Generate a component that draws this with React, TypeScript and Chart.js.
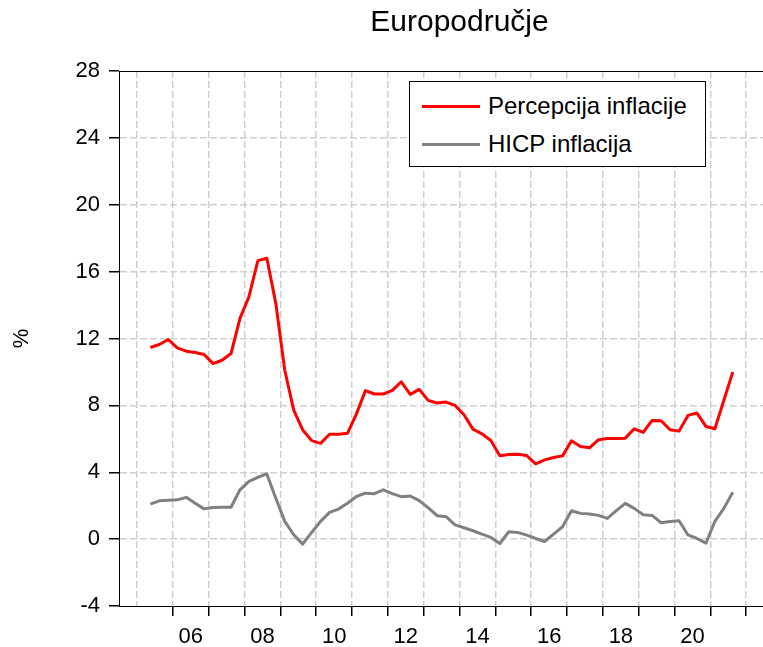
import React, { useEffect, useRef } from 'react';
import { Chart, registerables } from 'chart.js';

Chart.register(...registerables);

const periods = [
  '2005Q2', '2005Q3', '2005Q4',
  '2006Q1', '2006Q2', '2006Q3', '2006Q4',
  '2007Q1', '2007Q2', '2007Q3', '2007Q4',
  '2008Q1', '2008Q2', '2008Q3', '2008Q4',
  '2009Q1', '2009Q2', '2009Q3', '2009Q4',
  '2010Q1', '2010Q2', '2010Q3', '2010Q4',
  '2011Q1', '2011Q2', '2011Q3', '2011Q4',
  '2012Q1', '2012Q2', '2012Q3', '2012Q4',
  '2013Q1', '2013Q2', '2013Q3', '2013Q4',
  '2014Q1', '2014Q2', '2014Q3', '2014Q4',
  '2015Q1', '2015Q2', '2015Q3', '2015Q4',
  '2016Q1', '2016Q2', '2016Q3', '2016Q4',
  '2017Q1', '2017Q2', '2017Q3', '2017Q4',
  '2018Q1', '2018Q2', '2018Q3', '2018Q4',
  '2019Q1', '2019Q2', '2019Q3', '2019Q4',
  '2020Q1', '2020Q2', '2020Q3', '2020Q4',
  '2021Q1', '2021Q2', '2021Q3',
];

const perceivedInflation = [
  11.46, 11.64, 11.94,
  11.44, 11.24, 11.16, 11.04,
  10.5, 10.7, 11.1, 13.2,
  14.5, 16.66, 16.8, 14.1,
  10.1, 7.72, 6.53, 5.89,
  5.73, 6.27, 6.27, 6.33,
  7.49, 8.88, 8.68, 8.68,
  8.9, 9.41, 8.66, 8.96,
  8.3, 8.14, 8.2, 8.0,
  7.44, 6.58, 6.3, 5.9,
  4.98, 5.06, 5.08, 5.0,
  4.5, 4.74, 4.88, 4.98,
  5.88, 5.54, 5.46, 5.94,
  6.02, 6.02, 6.04, 6.6,
  6.38, 7.1, 7.08, 6.54,
  6.46, 7.4, 7.54, 6.74,
  6.6, 8.3, 10.0,
];

const hicpInflation = [
  2.09, 2.29, 2.33,
  2.35, 2.5, 2.15, 1.81,
  1.89, 1.91, 1.91, 2.95,
  3.45, 3.7, 3.9, 2.45,
  1.06, 0.26, -0.3, 0.4,
  1.06, 1.6, 1.8, 2.15,
  2.55, 2.75, 2.72, 2.95,
  2.72, 2.54, 2.58, 2.3,
  1.88, 1.4, 1.34, 0.85,
  0.68, 0.5, 0.3, 0.1,
  -0.26, 0.44, 0.4, 0.24,
  0.04, -0.14, 0.3, 0.74,
  1.7, 1.54, 1.5, 1.42,
  1.24, 1.7, 2.14, 1.84,
  1.46, 1.42, 0.98, 1.05,
  1.1, 0.25, 0.04, -0.24,
  1.06, 1.84, 2.8,
];

const yearTicks = [2005, 2006, 2007, 2008, 2009, 2010, 2011, 2012, 2013, 2014, 2015, 2016, 2017, 2018, 2019, 2020, 2021, 2022, 2023];
const yearLabels: Record<number, string> = {
  2006: '06', 2008: '08', 2010: '10', 2012: '12', 2014: '14', 2016: '16', 2018: '18', 2020: '20',
};
const yTicks = [-4, 0, 4, 8, 12, 16, 20, 24, 28];

const titleText = 'Europodručje';
const yAxisTitle = '%';

const series = [
  { label: 'Percepcija inflacije', values: perceivedInflation, color: '#ff0000' },
  { label: 'HICP inflacija', values: hicpInflation, color: '#808080' },
];

const FONT = '"Liberation Sans", Arial, sans-serif';
const GRID = '#cfcfcf';
const NONE = 'rgba(0,0,0,0)';

function periodToX(p: string): number {
  const year = Number(p.slice(0, 4));
  const q = Number(p.slice(5));
  return year + (q - 0.5) / 4;
}

const framePlugin = {
  id: 'frame',
  afterDraw(chart: any) {
    const { ctx, chartArea } = chart;
    const l = Math.round(chartArea.left) + 0.5;
    const t = Math.round(chartArea.top) + 0.5;
    const r = Math.round(chartArea.right) + 0.5;
    const b = Math.round(chartArea.bottom) + 0.5;
    ctx.save();
    ctx.setLineDash([]);
    ctx.strokeStyle = '#000';
    ctx.lineWidth = 1;
    ctx.strokeRect(l, t, r - l, b - t);
    ctx.restore();
  },
};

export default function App() {
  const canvasRef = useRef<HTMLCanvasElement | null>(null);

  useEffect(() => {
    if (!canvasRef.current) return;
    const chart = new Chart(canvasRef.current, {
      type: 'line',
      data: {
        datasets: series.map((s) => ({
          label: s.label,
          data: periods.map((p, i) => ({ x: periodToX(p), y: s.values[i] })),
          borderColor: s.color,
          backgroundColor: s.color,
          borderWidth: 3,
          pointRadius: 0,
          tension: 0,
          borderJoinStyle: 'round' as const,
          fill: false,
        })),
      },
      plugins: [framePlugin],
      options: {
        animation: false,
        responsive: false,
        devicePixelRatio: 1,
        layout: { padding: { left: 0, right: 8, top: 0, bottom: 0 } },
        plugins: {
          legend: { display: false },
          tooltip: { enabled: false },
          title: {
            display: true,
            text: titleText,
            fullSize: false,
            color: '#000',
            font: { family: FONT, size: 30, weight: 'normal', lineHeight: 1 },
            padding: { top: 0, bottom: 33 },
          },
        },
        scales: {
          x: {
            type: 'linear',
            min: 2004.5,
            max: 2023.5,
            afterBuildTicks: (scale: any) => {
              scale.ticks = yearTicks.map((v) => ({ value: v }));
            },
            afterFit: (scale: any) => {
              scale.height = 41;
            },
            ticks: {
              autoSkip: false,
              maxRotation: 0,
              minRotation: 0,
              labelOffset: 18,
              padding: 8,
              color: '#000',
              font: { family: FONT, size: 22 },
              callback: (v: any) => yearLabels[Number(v)] ?? '',
            },
            grid: {
              color: GRID,
              lineWidth: 1.5,
              tickLength: 10,
              tickWidth: 1.5,
              tickColor: (ctx: any) => (ctx.index === 0 ? NONE : '#000'),
            },
            border: { color: '#000', width: 1, dash: [7, 3] },
          },
          y: {
            type: 'linear',
            min: -4,
            max: 28,
            afterBuildTicks: (scale: any) => {
              scale.ticks = yTicks.map((v) => ({ value: v }));
            },
            afterFit: (scale: any) => {
              scale.width = 111;
            },
            ticks: {
              padding: 9,
              color: '#000',
              font: { family: FONT, size: 22 },
              callback: (v: any) => String(v),
            },
            title: {
              display: true,
              text: yAxisTitle,
              color: '#000',
              font: { family: FONT, size: 22 },
              padding: { top: 1, bottom: 0 },
            },
            grid: {
              color: (ctx: any) =>
                ctx.index === 0 || ctx.index === yTicks.length - 1 ? NONE : GRID,
              lineWidth: 1.5,
              tickLength: 10,
              tickWidth: 1.5,
              tickColor: '#000',
            },
            border: { color: '#000', width: 1, dash: [7, 3] },
          },
        },
      },
    } as any);
    return () => chart.destroy();
  }, []);

  return (
    <div
      style={{
        position: 'fixed',
        left: 8,
        top: 8,
        width: 755,
        height: 639,
        overflow: 'hidden',
        background: '#fff',
      }}
    >
      <canvas ref={canvasRef} width={800} height={639} style={{ display: 'block' }} />
      <div
        style={{
          position: 'absolute',
          left: 401,
          top: 73,
          width: 295,
          height: 84,
          border: '1px solid #000',
          background: '#fff',
        }}
      >
        {series.map((s, i) => (
          <div
            key={s.label}
            style={{
              position: 'absolute',
              left: 12,
              top: 9 + i * 38,
              height: 30,
              display: 'flex',
              alignItems: 'center',
              whiteSpace: 'nowrap',
            }}
          >
            <span style={{ display: 'inline-block', width: 58, height: 3, background: s.color }} />
            <span style={{ marginLeft: 8, fontFamily: FONT, fontSize: 24, color: '#000', lineHeight: '30px' }}>
              {s.label}
            </span>
          </div>
        ))}
      </div>
    </div>
  );
}
